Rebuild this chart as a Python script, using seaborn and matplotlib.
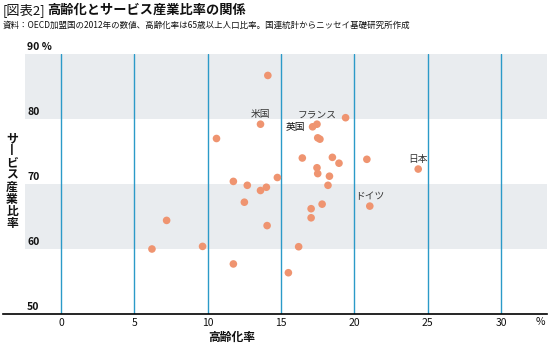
import matplotlib
matplotlib.use("Agg")
import matplotlib.pyplot as plt
import matplotlib.transforms as mtransforms
import seaborn as sns
import pandas as pd

# ---- data ----
aging = [14.1, 13.6, 10.6, 11.75, 12.7, 13.6, 14.0, 12.5, 14.05, 7.2,
         6.2, 9.65, 11.75, 14.75, 19.4, 17.45, 17.15, 17.5, 17.65, 16.45,
         18.5, 18.95, 20.85, 24.35, 17.45, 17.5, 18.3, 18.2, 21.05, 17.8,
         17.05, 17.05, 16.2, 15.5]
service = [86.7, 79.2, 77.0, 70.4, 69.8, 69.0, 69.5, 67.2, 63.6, 64.4,
           60.0, 60.4, 57.7, 71.0, 80.2, 79.2, 78.8, 77.1, 76.9, 74.0,
           74.1, 73.2, 73.8, 72.3, 72.5, 71.6, 71.2, 69.8, 66.6, 66.9,
           66.2, 64.8, 60.35, 56.35]
country = ["", "米国", "", "", "", "", "", "", "", "",
           "", "", "", "", "", "フランス", "英国", "", "", "",
           "", "", "", "日本", "", "", "", "", "ドイツ", "",
           "", "", "", ""]
x_ticks = [0, 5, 10, 15, 20, 25, 30]
y_ticks = [50, 60, 70, 80, 90]
y_tick_labels = ["50", "60", "70", "80", "90 %"]
bands = [(60, 70), (80, 90)]

title_prefix = "[図表2]"
title_main = "高齢化とサービス産業比率の関係"
subtitle = "資料：OECD加盟国の2012年の数値、高齢化率は65歳以上人口比率。国連統計からニッセイ基礎研究所作成"
x_label = "高齢化率"
y_label = "サービス産業比率"

df = pd.DataFrame({"aging": aging, "service": service, "country": country})

sns.set_theme(style="white")
plt.rcParams["font.family"] = ["Noto Sans CJK JP", "DejaVu Sans"]

fig = plt.figure(figsize=(5.5, 3.5), dpi=100)
ax = fig.add_axes([3 / 550, 36 / 350, 544 / 550, 260 / 350])

xmin, xmax = -3.954, 33.13
ax.set_xlim(xmin, xmax)
ax.set_ylim(50, 90)

# grey bands (start slightly right of the axis origin)
band_start = (25 - 3) / 544
for lo, hi in bands:
    ax.axhspan(lo, hi, xmin=band_start, xmax=1, color="#E9ECEF", lw=0, zorder=0)

# vertical blue grid lines
for xv in x_ticks:
    ax.axvline(xv, color="#2B9AC8", lw=1.0, zorder=1)

sns.scatterplot(data=df, x="aging", y="service", ax=ax, s=30,
                color="#EF9470", edgecolor="none", zorder=3, legend=False)

# country labels
for xv, yv, name in zip(df["aging"], df["service"], df["country"]):
    if not name:
        continue
    if name == "英国":
        ax.annotate(name, (xv, yv), xytext=(-5, 0), textcoords="offset points",
                    ha="right", va="center", fontsize=7, color="#111111")
    else:
        ax.annotate(name, (xv, yv), xytext=(0, 7.2), textcoords="offset points",
                    ha="center", va="center", fontsize=7, color="#333333")

# spines
for s in ["top", "right", "left"]:
    ax.spines[s].set_visible(False)
ax.spines["bottom"].set_color("black")
ax.spines["bottom"].set_linewidth(1.2)

ax.set_xticks(x_ticks)
ax.set_xticklabels([str(t) for t in x_ticks], fontsize=7.5, color="#111111")
ax.tick_params(axis="x", length=0, pad=3)
ax.set_yticks([])
ax.set_xlabel("")
ax.set_ylabel("")

# y tick labels sitting on top of the lines
trans = mtransforms.blended_transform_factory(ax.transAxes, ax.transData)
for yv, lab in zip(y_ticks, y_tick_labels):
    ax.text((27 - 3) / 544, yv + 0.3, lab, transform=trans, ha="left", va="bottom",
            fontsize=7.5, fontweight="bold", color="#111111")

# percent sign at end of x axis
fig.text(540 / 550, 1 - 322 / 350, "%", ha="center", va="center", fontsize=7.5,
         color="#111111")

# x label
fig.text(232 / 550, 1 - 337 / 350, x_label, ha="center", va="center",
         fontsize=8.5, fontweight="bold", color="#111111")

# vertical stacked y label
vert = "\n".join("丨" if c == "ー" else c for c in y_label)
fig.text(12 / 550, 1 - 181 / 350, vert, ha="center", va="center",
         fontsize=8.5, fontweight="bold", linespacing=0.92, color="#111111")

# title
t1 = fig.text(3 / 550, 1 - 10 / 350, title_prefix, ha="left", va="center",
              fontsize=9.5, color="#111111")
fig.canvas.draw()
bb = t1.get_window_extent()
fig.text(bb.x1 / 550 + 2 / 550, 1 - 10 / 350, title_main, ha="left", va="center",
         fontsize=9.5, fontweight="bold", color="#111111")
fig.text(3 / 550, 1 - 25 / 350, subtitle, ha="left", va="center",
         fontsize=6.1, color="#111111")

fig.savefig("out.png", dpi=100)
